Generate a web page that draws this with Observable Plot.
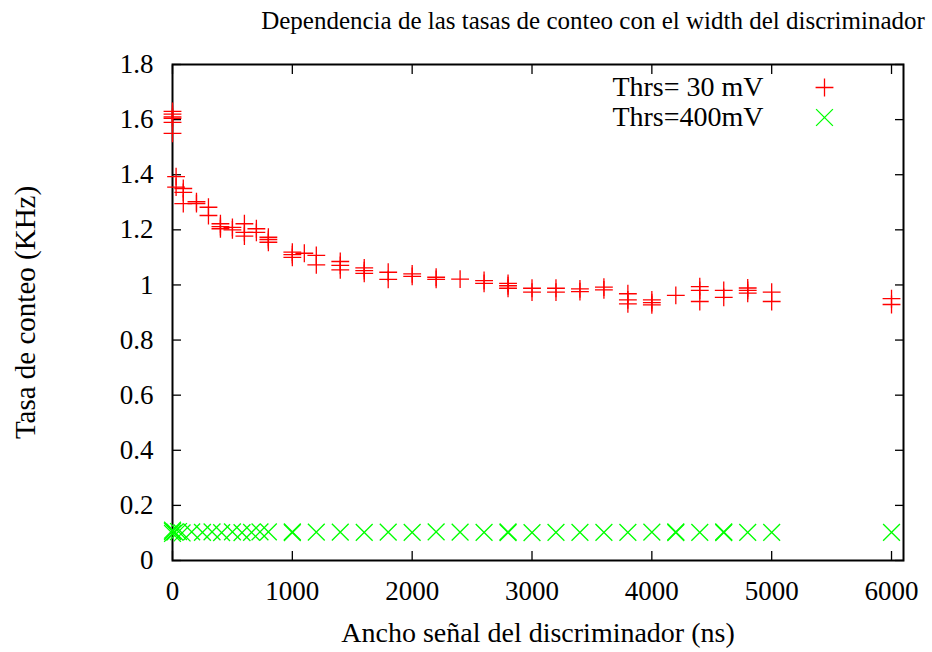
<!DOCTYPE html>
<html>
<head>
<meta charset="utf-8">
<script src="https://cdn.jsdelivr.net/npm/d3@7"></script>
<script src="https://cdn.jsdelivr.net/npm/@observablehq/plot@0.6"></script>
<style>
  html, body { margin: 0; padding: 0; background: #fff; }
  #wrap { width: 932px; height: 652px; position: relative; font-family: "Liberation Serif", "DejaVu Serif", serif; }
  #title { position: absolute; top: 7px; left: 0; width: 932px; font-size: 25px; color: #000; white-space: nowrap; }
  #title span { position: absolute; left: 593px; transform: translateX(-50%); }
  #chart { position: absolute; top: 40px; left: 0; }
</style>
</head>
<body>
<div id="wrap">
  <div id="title"><span>Dependencia de las tasas de conteo con el width del discriminador</span></div>
  <div id="chart"></div>
</div>
<script>
// Thrs = 30 mV (red +)
const redX = [
  0, 0, 0, 0, 0, 0,
  30, 30,
  90, 90, 90,
  200, 200,
  300, 300,
  400, 400, 400,
  500, 500,
  600, 600, 600,
  700, 700,
  800, 800, 800,
  1000, 1000, 1000,
  1100,
  1200, 1200,
  1400, 1400, 1400,
  1600, 1600, 1600,
  1800, 1800,
  2000, 2000,
  2200, 2200,
  2400,
  2600, 2600,
  2800, 2800, 2800,
  3000, 3000,
  3200, 3200,
  3400, 3400,
  3600, 3600,
  3800, 3800, 3800,
  4000, 4000, 4000,
  4200,
  4400, 4400, 4400,
  4600, 4600,
  4800, 4800, 4800,
  5000, 5000,
  6000, 6000
];
const redY = [
  1.63, 1.62, 1.61, 1.605, 1.59, 1.55,
  1.393, 1.355,
  1.35, 1.336, 1.295,
  1.302, 1.295,
  1.282, 1.252,
  1.222, 1.212, 1.204,
  1.209, 1.200,
  1.222, 1.191, 1.177,
  1.204, 1.191,
  1.173, 1.165, 1.155,
  1.119, 1.110, 1.100,
  1.115,
  1.107, 1.073,
  1.085, 1.071, 1.055,
  1.062, 1.052, 1.042,
  1.046, 1.020,
  1.040, 1.031,
  1.028, 1.020,
  1.021,
  1.016, 1.006,
  1.006, 0.997, 0.988,
  0.988, 0.974,
  0.988, 0.974,
  0.986, 0.976,
  0.992, 0.982,
  0.968, 0.946, 0.931,
  0.946, 0.936, 0.928,
  0.962,
  0.994, 0.980, 0.940,
  0.980, 0.955,
  0.989, 0.980, 0.970,
  0.974, 0.940,
  0.950, 0.929
];
// Thrs = 400 mV (green x)
const greenX = [
  0, 0, 0, 20, 50, 80, 160, 250, 330, 410, 500, 580, 660, 730, 800,
  1000, 1000, 1200, 1400, 1600, 1800, 2000, 2200, 2400, 2600, 2800, 2800,
  3000, 3200, 3400, 3600, 3800, 4000, 4200, 4200, 4400, 4600, 4600, 4800, 5000,
  6000
];
const greenY = [
  0.098, 0.105, 0.11, 0.103, 0.105, 0.100, 0.104, 0.102, 0.104, 0.101, 0.104, 0.101, 0.102, 0.104, 0.104,
  0.101, 0.104, 0.103, 0.103, 0.102, 0.103, 0.102, 0.104, 0.103, 0.102, 0.101, 0.104,
  0.101, 0.102, 0.102, 0.102, 0.102, 0.103, 0.101, 0.104, 0.102, 0.101, 0.104, 0.102, 0.102,
  0.102
];
const seriesNames = ["Thrs= 30 mV", "Thrs=400mV"];
const xTicks = [0, 1000, 2000, 3000, 4000, 5000, 6000];
const yTicks = [0, 0.2, 0.4, 0.6, 0.8, 1, 1.2, 1.4, 1.6, 1.8];
const xLabel = "Ancho señal del discriminador (ns)";
const yLabel = "Tasa de conteo (KHz)";

const red = redX.map((x, i) => ({x, y: redY[i]}));
const green = greenX.map((x, i) => ({x, y: greenY[i]}));
const fmtY = d => String(+d.toFixed(1));
const fmtX = d => String(d);
const font = "Liberation Serif";

const chart = Plot.plot({
  width: 932,
  height: 612,
  marginTop: 24,
  marginBottom: 92,
  marginLeft: 172,
  marginRight: 29,
  style: {fontFamily: font, fontSize: "27px", background: "#fff", color: "#000"},
  x: {domain: [0, 6100]},
  y: {domain: [0, 1.8]},
  marks: [
    // tick labels
    Plot.axisX(xTicks, {anchor: "bottom", tickSize: 0, tickPadding: 20, tickFormat: fmtX, fontSize: 27, label: null}),
    Plot.axisY(yTicks, {anchor: "left", tickSize: 0, tickPadding: 19, tickFormat: fmtY, fontSize: 27, label: null}),
    // inward ticks (mirrored)
    Plot.axisX(xTicks, {anchor: "bottom", tickSize: -9, tickFormat: () => "", label: null, strokeWidth: 1.3}),
    Plot.axisX(xTicks, {anchor: "top", tickSize: -9, tickFormat: () => "", label: null, strokeWidth: 1.3}),
    Plot.axisY(yTicks, {anchor: "left", tickSize: -9, tickFormat: () => "", label: null, strokeWidth: 1.3}),
    Plot.axisY(yTicks, {anchor: "right", tickSize: -9, tickFormat: () => "", label: null, strokeWidth: 1.3}),
    Plot.frame({stroke: "#000", strokeWidth: 2}),
    // data
    Plot.dot(red, {x: "x", y: "y", symbol: "plus", r: 5.8, stroke: "#ff0000", strokeWidth: 1.3}),
    Plot.dot(green, {x: "x", y: "y", symbol: "times", r: 7.7, stroke: "#00ff00", strokeWidth: 1.3}),
    // legend
    Plot.text([seriesNames[0]], {frameAnchor: "top-right", dx: -140, dy: 23, textAnchor: "end", lineAnchor: "middle", fontSize: 28, text: d => d}),
    Plot.text([seriesNames[1]], {frameAnchor: "top-right", dx: -140, dy: 53, textAnchor: "end", lineAnchor: "middle", fontSize: 28, text: d => d}),
    Plot.dot([seriesNames[0]], {frameAnchor: "top-right", dx: -79, dy: 23, symbol: "plus", r: 5.8, stroke: "#ff0000", strokeWidth: 1.3}),
    Plot.dot([seriesNames[1]], {frameAnchor: "top-right", dx: -79, dy: 53, symbol: "times", r: 7.7, stroke: "#00ff00", strokeWidth: 1.3}),
    // axis titles
    Plot.text([yLabel], {frameAnchor: "left", dx: -147, rotate: -90, textAnchor: "middle", lineAnchor: "middle", fontSize: 29, text: d => d}),
    Plot.text([xLabel], {frameAnchor: "bottom", dy: 73, textAnchor: "middle", lineAnchor: "middle", fontSize: 28, text: d => d})
  ]
});
document.getElementById("chart").appendChild(chart);
</script>
</body>
</html>
